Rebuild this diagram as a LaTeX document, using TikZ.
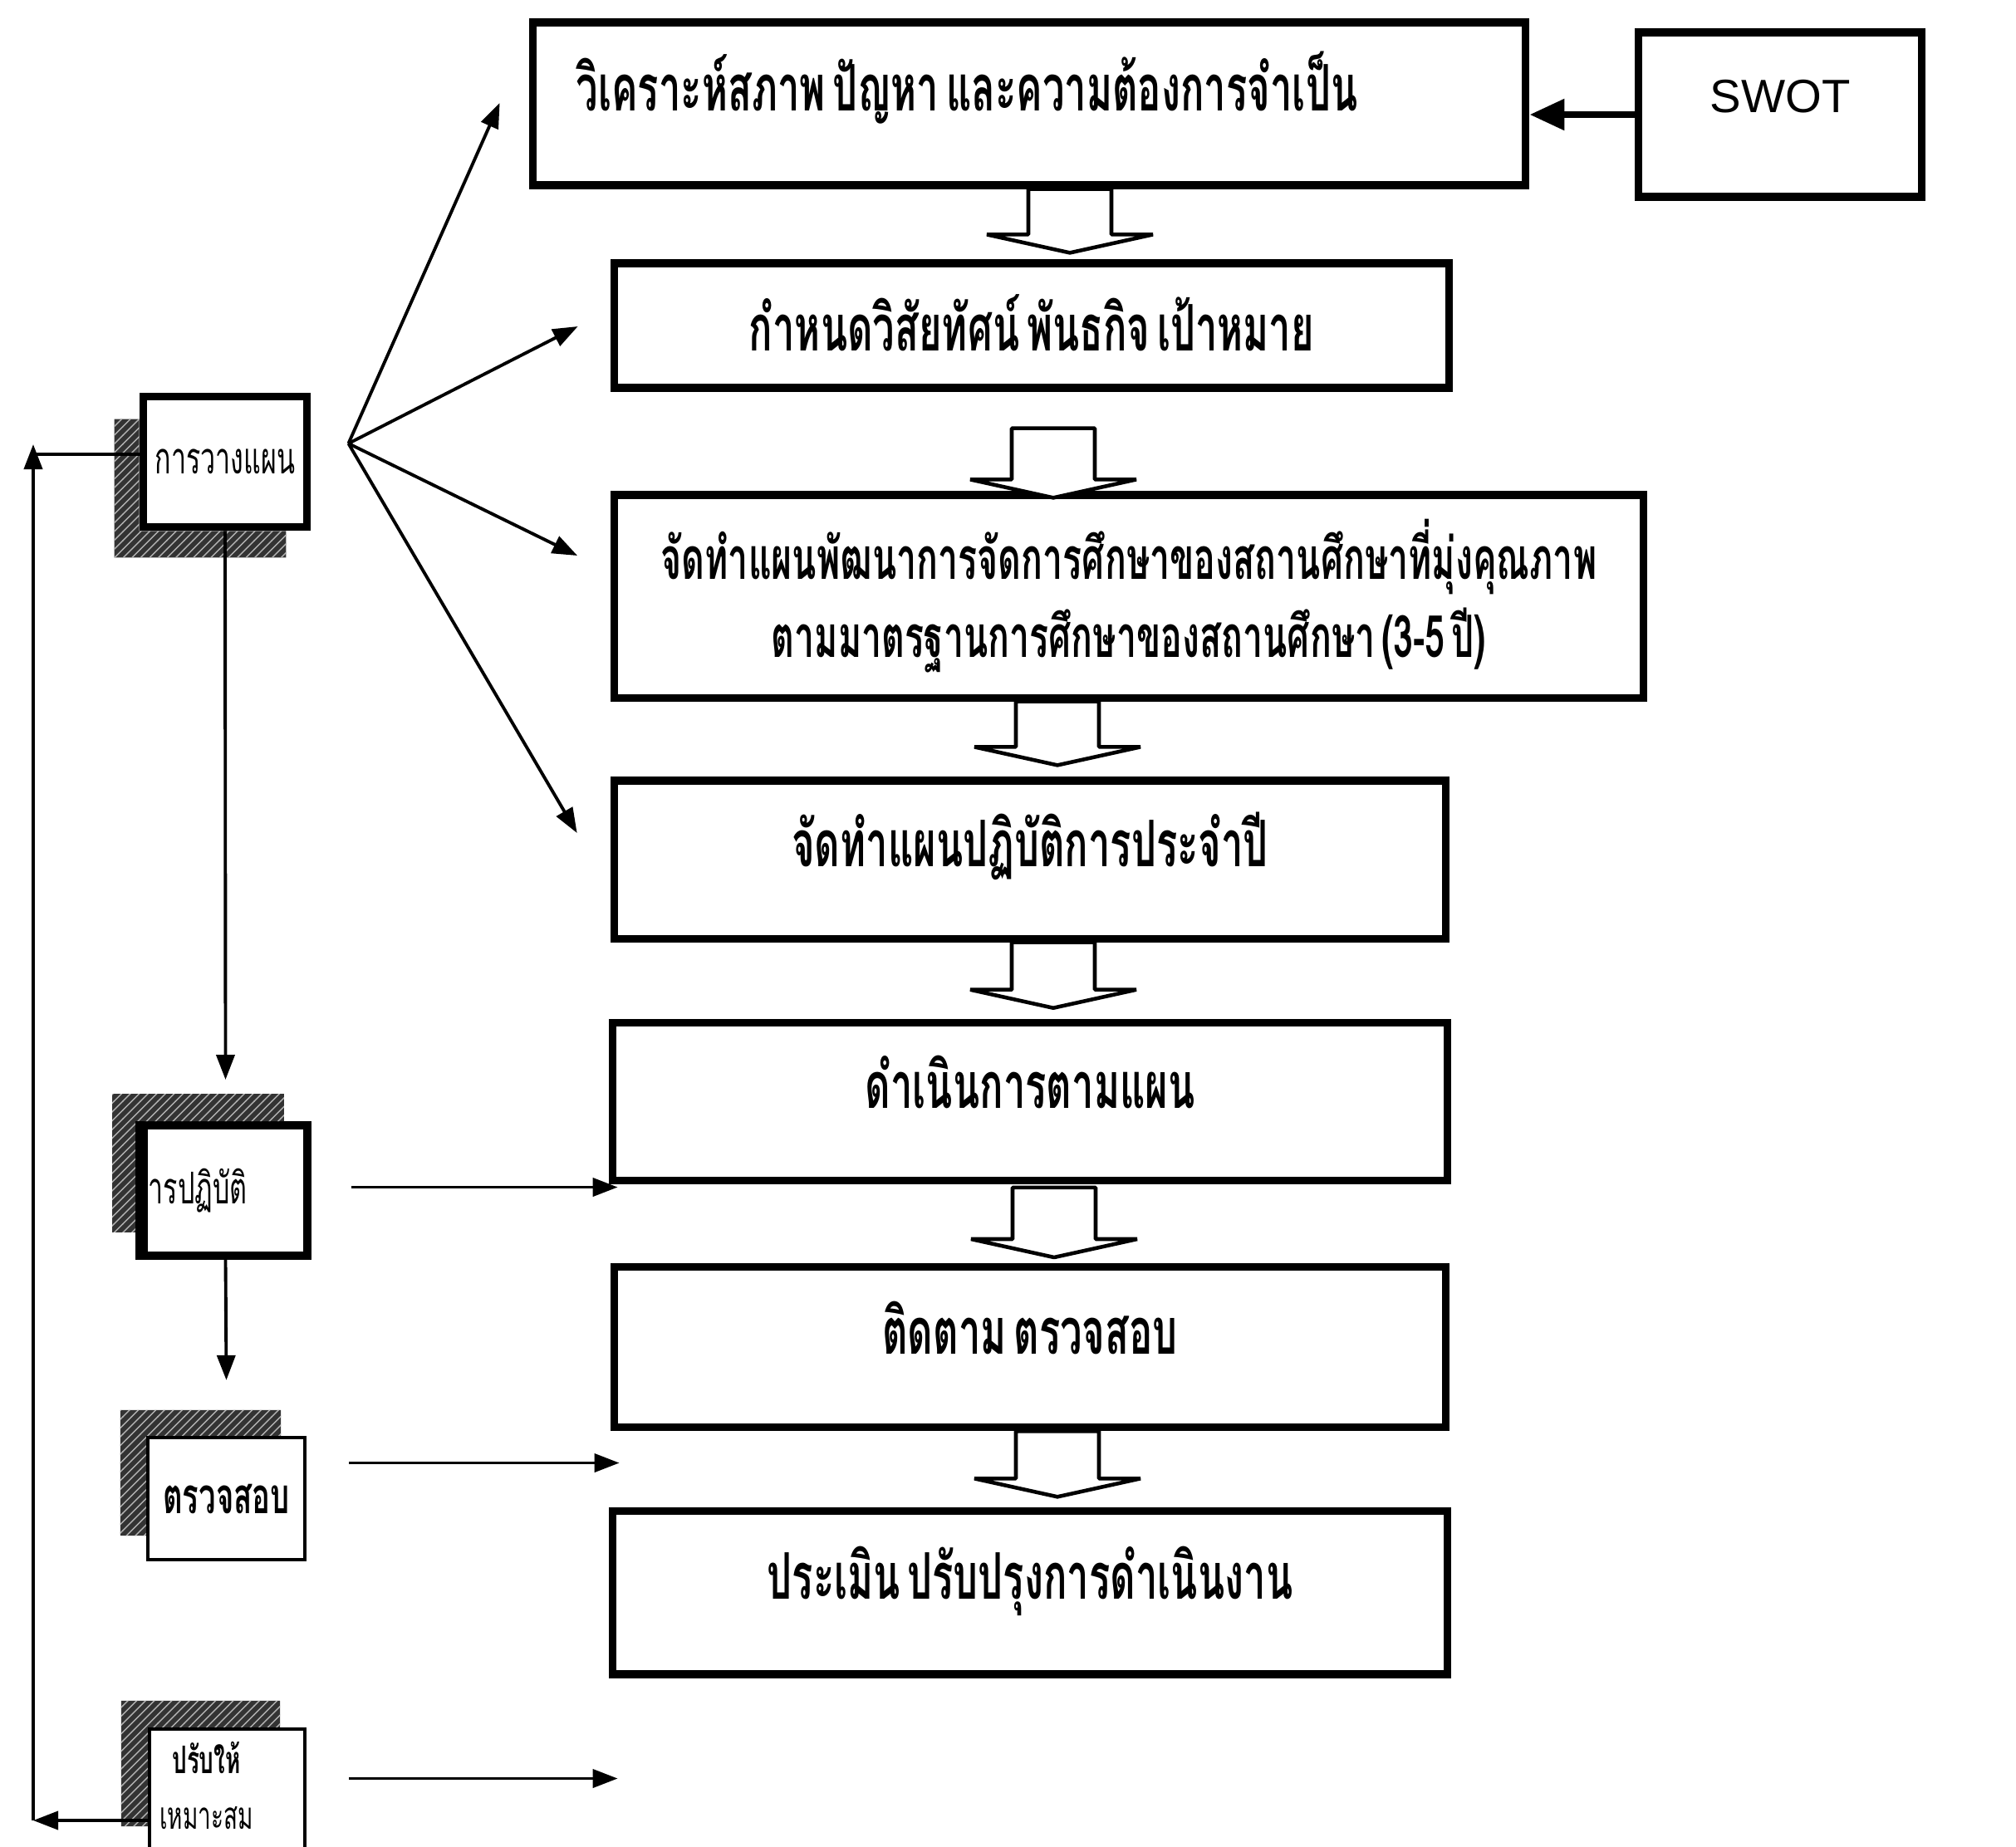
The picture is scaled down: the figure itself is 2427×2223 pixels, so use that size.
\documentclass[tikz,border=0pt]{standalone}
\usepackage{fontspec}
\setmainfont{Liberation Sans}
\newfontfamily\thai[Script=Thai, FakeStretch=0.61, WordSpace=0.55]{Loma}
\usetikzlibrary{arrows.meta,positioning,calc,patterns}

\begin{document}
\begin{tikzpicture}[
		x=0.01cm, y=-0.01cm,
		stage/.style={rectangle, draw, line width=2.6pt, inner sep=0pt, text height=0.38cm, text depth=0.22cm,
			font=\thai\bfseries\fontsize{22}{27}\selectfont},
		phase/.style={rectangle, draw, fill=white, inner sep=0pt, minimum width=1.97cm, minimum height=1.57cm,
			font=\thai\fontsize{15}{19}\selectfont},
		hatch/.style={pattern=north east lines, pattern color=white!70!black, preaction={fill=black!80}},
		hollow/.style={draw, fill=white, line width=1.3pt, line join=bevel},
		arr/.style={-{Triangle[length=0.3cm, width=0.22cm]}, line width=1.1pt},
		bigarr/.style={-{Triangle[length=0.42cm, width=0.36cm]}, line width=2.4pt}
	]
	\useasboundingbox (0,0) rectangle (2427,2223);
	\clip (0,0) rectangle (2427,2223);

	% Main steps
	\node[stage, minimum width=11.95cm, minimum height=1.96cm] (analyse) at (1239,125) {\hspace*{-1.5cm}วิเคราะห์สภาพ ปัญหา และความต้องการจำเป็น};
	\node[stage, minimum width=10.05cm, minimum height=1.5cm, text height=0.6cm, text depth=0cm] (vision) at (1242,392) {กำหนดวิสัยทัศน์ พันธกิจ เป้าหมาย};
	\node[stage, minimum width=12.38cm, minimum height=2.44cm, text height=, text depth=, align=center,
		font=\thai\bfseries\fontsize{20}{26.7}\selectfont] (devplan) at (1359,718) {จัดทำแผนพัฒนาการจัดการศึกษาของสถานศึกษาที่มุ่งคุณภาพ\\ตามมาตรฐานการศึกษาของสถานศึกษา (3-5 ปี)};
	\node[stage, minimum width=10.01cm, minimum height=1.9cm] (yearplan) at (1240,1035) {จัดทำแผนปฏิบัติการประจำปี};
	\node[stage, minimum width=10.05cm, minimum height=1.9cm, below=0.92cm of yearplan] (run) {ดำเนินการตามแผน};
	\node[stage, minimum width=10.01cm, minimum height=1.93cm, below=0.95cm of run] (monitor) {ติดตาม ตรวจสอบ};
	\node[stage, minimum width=10.05cm, minimum height=1.96cm, below=0.92cm of monitor] (evaluate) {ประเมิน ปรับปรุงการดำเนินงาน};

	% SWOT input
	\node[rectangle, draw, line width=2.6pt, minimum width=3.41cm, minimum height=1.98cm, text height=0.3cm, text depth=0.35cm,
		font=\fontsize{16}{19}\selectfont] (swot) at (2143,138) {SWOT};
	\draw[bigarr] (swot.west) -- (swot.west -| analyse.east);

	% Hollow arrows between steps
	\foreach \a/\b/\cx/\ta/\tb in {analyse/vision/1288/0/8, vision/devplan/1268/44/-8, devplan/yearplan/1273/0/14,
			yearplan/run/1268/0/13, run/monitor/1269/4/7, monitor/evaluate/1273/0/13}
		\draw[hollow] ($(\a.south -| \cx,0)+(-50,\ta)$) -- ($(\b.north -| \cx,0)+(-50,{-(\tb)-22})$)
			-- ($(\b.north -| \cx,0)+(-100,{-(\tb)-22})$) -- ($(\b.north -| \cx,0)+(0,{-(\tb)})$)
			-- ($(\b.north -| \cx,0)+(100,{-(\tb)-22})$) -- ($(\b.north -| \cx,0)+(50,{-(\tb)-22})$)
			-- ($(\a.south -| \cx,0)+(50,\ta)$) -- cycle;

	% PDCA boxes
	\node[phase, line width=2.8pt] (plan) at (271,556) {การวางแผน};
	\node[phase, line width=2.8pt] (act) at (271.5,1433.5) {\hspace*{-0.86cm}การปฏิบัติ};
	\node[phase, line width=1.2pt, minimum width=1.89cm, minimum height=1.47cm, font=\thai\bfseries\fontsize{17}{20}\selectfont] (check) at (272.5,1804.5) {ตรวจสอบ};
	\node[phase, line width=1.2pt, minimum width=1.87cm, minimum height=1.47cm, font=\thai\fontsize{13}{19}\selectfont] (adjust) at (273.5,2155.5)
		{\hspace*{-0.5cm}\begin{tabular}{@{}c@{}}\bfseries ปรับให้\\เหมาะสม\end{tabular}};

	% Shadows
	\fill[hatch] ($(plan.north west)+(-30,32)$) -- ($(plan.north west)+(0,32)$) -- (plan.south west)
		-- ($(plan.south east)+(-30,0)$) -- ($(plan.south east)+(-30,32)$) -- ($(plan.south west)+(-30,32)$) -- cycle;
	\fill[hatch] ($(act.north west)+(-33,-33)$) -- ($(act.north east)+(-33,-33)$) -- ($(act.north east)+(-33,0)$)
		-- (act.north west) -- ($(act.south west)+(0,-33)$) -- ($(act.south west)+(-33,-33)$) -- cycle;
	\draw[line width=2.8pt] (act.north west) -- (act.south west);
	\fill[hatch] ($(check.north west)+(-31,-31)$) -- ($(check.north east)+(-31,-31)$) -- ($(check.north east)+(-31,0)$)
		-- (check.north west) -- ($(check.south west)+(0,-31)$) -- ($(check.south west)+(-31,-31)$) -- cycle;
	\fill[hatch] ($(adjust.north west)+(-32,-32)$) -- ($(adjust.north east)+(-32,-32)$) -- ($(adjust.north east)+(-32,0)$)
		-- (adjust.north west) -- ($(adjust.south west)+(0,-32)$) -- ($(adjust.south west)+(-32,-32)$) -- cycle;

	% Planning fan
	\coordinate (fan) at ($(plan.east)+(45,-22)$);
	\draw[arr] (fan) -- ($(analyse.west)+(-35,-1)$);
	\draw[arr] (fan) -- ($(vision.west)+(-39,1)$);
	\draw[arr] (fan) -- ($(devplan.west)+(-40,-49)$);
	\draw[arr] (fan) -- ($(yearplan.west)+(-40,-32)$);

	% PDCA flow
	\draw[arr] (plan.south) -- ($(act.north)+(0,-50)$);
	\draw[arr] (act.south) -- ($(check.north)+(0,-67)$);
	\draw[arr] ($(act.east)+(48,-4)$) -- ($(act.east -| run.west)+(11,-4)$);
	\draw[arr] ($(check.east)+(51,-43)$) -- ($(check.east -| monitor.west)+(11,-43)$);
	\draw[arr] ($(adjust.east)+(51,-14)$) -- ($(adjust.east -| evaluate.west)+(11,-14)$);

	% Feedback loop
	\coordinate (ltop) at (40,547);
	\coordinate (lbot) at (40,2192);
	\draw[arr] (lbot -| adjust.west) -- (lbot);
	\draw[arr] (lbot) -- ($(ltop)+(0,-12)$);
	\draw[line width=1.1pt] (ltop) -- (ltop -| plan.west);

\end{tikzpicture}
\end{document}
